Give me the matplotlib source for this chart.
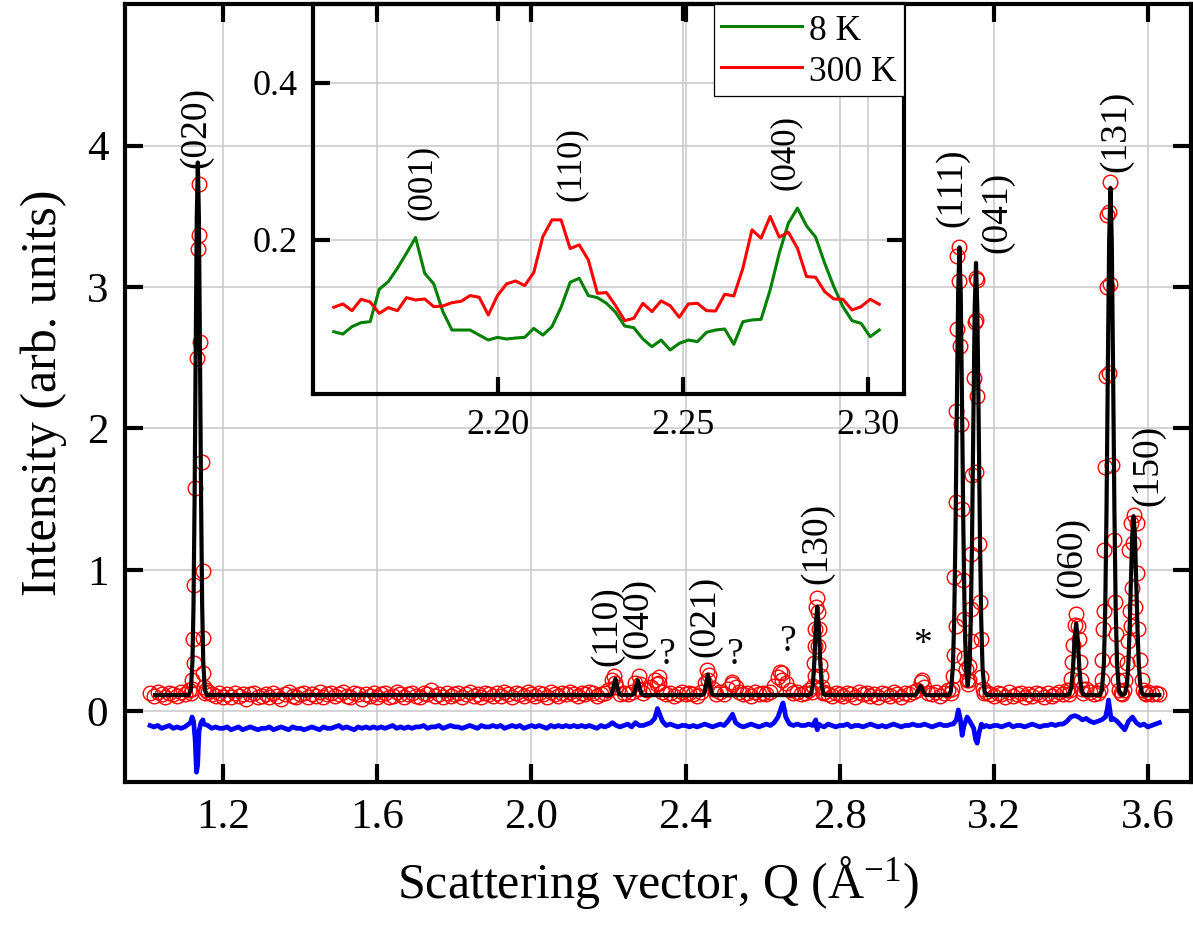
import numpy as np
import matplotlib
matplotlib.use('Agg')
import matplotlib.pyplot as plt

plt.rcParams['font.family'] = ['Liberation Serif', 'DejaVu Serif']
plt.rcParams['mathtext.fontset'] = 'custom'
plt.rcParams['mathtext.rm'] = 'Liberation Serif'
plt.rcParams['mathtext.it'] = 'Liberation Serif:italic'

N = np.nan

# ---------------- main pattern data ----------------
# observed intensity on a regular grid (Q = 1.01 ... 3.63, step 0.01); NaN where the
# peak points listed separately take over
OBS_GRID_START = 1.01
OBS_GRID_STEP = 0.01
OBS_BG_I = [
    0.13, 0.11, 0.14, 0.12, 0.10, 0.13, 0.12, 0.11, 0.14, 0.12,
    0.15, N, N, N, N, 0.14, 0.12, 0.11, 0.13, 0.10,
    0.12, 0.10, 0.13, 0.11, 0.12, 0.09, 0.12, 0.13, 0.10, 0.11,
    0.12, 0.10, 0.13, 0.11, 0.09, 0.12, 0.14, 0.11, 0.10, 0.12,
    0.13, 0.10, 0.12, 0.11, 0.14, 0.10, 0.12, 0.13, 0.11, 0.12,
    0.14, 0.11, 0.10, 0.13, 0.12, 0.09, 0.12, 0.11, 0.13, 0.10,
    0.12, 0.13, 0.10, 0.11, 0.14, 0.12, 0.10, 0.12, 0.13, 0.11,
    0.10, 0.13, 0.12, 0.15, 0.11, 0.12, 0.10, 0.13, 0.11, 0.12,
    0.13, 0.10, 0.12, 0.14, 0.11, 0.12, 0.10, 0.13, 0.12, 0.11,
    0.13, 0.11, 0.14, 0.12, 0.10, 0.13, 0.12, 0.11, 0.14, 0.12,
    0.11, 0.13, 0.12, 0.10, 0.14, 0.12, 0.11, 0.13, 0.12, 0.14,
    0.12, 0.11, 0.13, 0.12, 0.14, 0.13, 0.11, 0.12, 0.13, 0.15,
    0.22, 0.17, 0.12, 0.13, 0.12, 0.14, 0.20, 0.16, 0.13, 0.15,
    0.17, 0.22, 0.20, 0.14, 0.12, 0.13, 0.11, 0.12, 0.14, 0.12,
    0.13, 0.12, 0.11, 0.14, 0.20, 0.26, 0.16, 0.12, 0.14, 0.12,
    0.16, 0.19, 0.17, 0.14, 0.12, 0.13, 0.11, 0.14, 0.12, 0.13,
    0.12, 0.14, 0.18, 0.24, 0.27, 0.20, 0.15, 0.13, 0.14, 0.12,
    0.13, 0.15, N, N, N, 0.14, 0.12, 0.11, 0.13, 0.12,
    0.11, 0.13, 0.12, 0.10, 0.14, 0.12, 0.13, 0.11, 0.12, 0.10,
    0.13, 0.12, 0.11, 0.14, 0.12, 0.10, 0.13, 0.12, 0.14, 0.15,
    0.21, 0.17, 0.13, 0.12, 0.14, 0.11, 0.13, 0.15, N, N,
    N, N, N, N, N, N, N, 0.14, 0.12, 0.11,
    0.13, 0.12, 0.10, 0.14, 0.11, 0.12, 0.13, 0.10, 0.12, 0.11,
    0.13, 0.12, 0.10, 0.13, 0.11, 0.12, 0.14, 0.12, 0.15, N,
    N, N, N, 0.16, 0.14, 0.12, 0.13, N, N, N,
    N, N, N, N, N, N, N, N, N, 0.14,
    0.12, 0.13, 0.12,
]

# observed points on and around the Bragg peaks
OBS_PEAK_Q = [
    # (020)
    1.116, 1.118, 1.120, 1.122, 1.124, 1.124, 1.127, 1.131, 1.135, 1.137, 1.138,
    1.140, 1.144, 1.148, 1.147, 1.148, 1.151, 1.153, 1.155,
    # small peaks
    2.213, 2.216, 2.278, 2.281, 2.330, 2.327, 2.455, 2.459, 2.521, 2.646, 2.650, 3.014,
    # (130)
    2.728, 2.731, 2.735, 2.733, 2.736, 2.736, 2.739, 2.741, 2.744, 2.745, 2.746,
    2.749, 2.751, 2.754, 2.757,
    # (111)
    3.089, 3.092, 3.095, 3.098, 3.101, 3.097, 3.101, 3.103, 3.104, 3.105, 3.111,
    3.111, 3.113, 3.116, 3.118, 3.121, 3.122, 3.124, 3.127, 3.130, 3.133,
    # (041)
    3.136, 3.137, 3.140, 3.141, 3.141, 3.144, 3.148, 3.152, 3.153, 3.153, 3.157,
    3.155, 3.157, 3.161, 3.164, 3.166, 3.168, 3.171, 3.174,
    # (060)
    3.396, 3.398, 3.401, 3.404, 3.407, 3.411, 3.414, 3.418, 3.421, 3.424, 3.427,
    3.430, 3.433,
    # (131)
    3.477, 3.480, 3.482, 3.484, 3.487, 3.487, 3.489, 3.492, 3.495, 3.495, 3.500,
    3.500, 3.502, 3.502, 3.506, 3.511, 3.515, 3.517, 3.520, 3.523, 3.526, 3.530,
    3.534,
    # (150)
    3.538, 3.541, 3.545, 3.548, 3.550, 3.553, 3.556, 3.556, 3.559, 3.562, 3.563,
    3.567, 3.571, 3.571, 3.575, 3.580, 3.584, 3.588, 3.592, 3.596,
]
OBS_PEAK_I = [
    0.13, 0.16, 0.22, 0.51, 0.34, 0.89, 1.58, 2.50, 3.27, 3.73, 3.37,
    2.61, 1.76, 0.99, 0.52, 0.27, 0.17, 0.13, 0.15,
    0.25, 0.20, 0.25, 0.19, 0.24, 0.19, 0.29, 0.22, 0.21, 0.28, 0.22, 0.22,
    0.14, 0.18, 0.25, 0.34, 0.46, 0.58, 0.74, 0.80, 0.70, 0.46, 0.58,
    0.33, 0.25, 0.17, 0.13,
    0.13, 0.16, 0.25, 0.40, 0.60, 0.95, 1.48, 2.12, 2.70, 3.22, 3.28,
    3.04, 2.58, 2.03, 1.43, 0.93, 0.65, 0.38, 0.30, 0.22, 0.19,
    0.22, 0.32, 0.50, 0.72, 1.11, 1.67, 2.36, 2.75, 2.77, 3.06, 3.05,
    1.69, 2.23, 1.18, 0.77, 0.51, 0.24, 0.16, 0.13,
    0.12, 0.15, 0.23, 0.35, 0.47, 0.61, 0.69, 0.60, 0.51, 0.35, 0.22,
    0.16, 0.13,
    0.15, 0.22, 0.36, 0.58, 0.71, 1.14, 1.73, 2.37, 3.00, 3.51, 2.39,
    3.53, 3.02, 3.74, 1.74, 1.21, 0.77, 0.55, 0.36, 0.22, 0.15, 0.13,
    0.12,
    0.15, 0.22, 0.34, 0.50, 1.14, 0.71, 1.33, 0.60, 0.87, 1.19, 1.39,
    0.74, 1.33, 0.98, 0.58, 0.36, 0.22, 0.15, 0.13, 0.12,
]

# calculated (fit) curve vertices
CALC_Q = [
    1.023, 1.110, 1.1158, 1.120, 1.1228, 1.1256, 1.1284, 1.1312, 1.134, 1.1368, 1.1396,
    1.1424, 1.1452, 1.148, 1.1522, 1.158,
    2.203, 2.208, 2.213, 2.218, 2.223, 2.228, 2.233,
    2.261, 2.266, 2.271, 2.276, 2.281, 2.286, 2.291,
    2.443, 2.448, 2.453, 2.458, 2.463, 2.468, 2.473,
    2.720, 2.7251, 2.7303, 2.7342, 2.7381, 2.742, 2.7459, 2.7498, 2.7537, 2.7589, 2.764,
    2.992, 2.998, 3.004, 3.010, 3.016, 3.022, 3.028,
    3.083, 3.0889, 3.094, 3.0974, 3.1008, 3.1042, 3.1076, 3.111, 3.1144, 3.1178, 3.1212,
    3.1246, 3.128, 3.1325, 3.137, 3.1404, 3.1438, 3.1472, 3.1506, 3.154, 3.1574, 3.1608,
    3.1642, 3.1676, 3.171, 3.1761, 3.182,
    3.390, 3.3958, 3.4014, 3.4056, 3.4098, 3.414, 3.4182, 3.4224, 3.4266, 3.4322, 3.438,
    3.475, 3.4809, 3.486, 3.4894, 3.4928, 3.4962, 3.4996, 3.503, 3.5064, 3.5098, 3.5132,
    3.5166, 3.520, 3.5251, 3.533,
    3.5409, 3.546, 3.5494, 3.5528, 3.5562, 3.5596, 3.563, 3.5664, 3.5698, 3.5732, 3.5766,
    3.580, 3.5851, 3.591, 3.630,
]
CALC_I = [
    0.115, 0.115, 0.150, 0.350, 0.755, 1.501, 2.532, 3.485, 3.88, 3.485, 2.532,
    1.501, 0.755, 0.350, 0.150, 0.115,
    0.115, 0.122, 0.172, 0.23, 0.172, 0.122, 0.115,
    0.115, 0.122, 0.167, 0.22, 0.167, 0.122, 0.115,
    0.115, 0.124, 0.187, 0.26, 0.187, 0.124, 0.115,
    0.115, 0.121, 0.181, 0.345, 0.602, 0.74, 0.602, 0.345, 0.181, 0.121, 0.115,
    0.115, 0.119, 0.147, 0.18, 0.147, 0.119, 0.115,
    0.115, 0.144, 0.313, 0.653, 1.280, 2.147, 2.948, 3.28, 2.948, 2.147, 1.280,
    0.653, 0.318, 0.180, 0.311, 0.634, 1.239, 2.076, 2.849, 3.17, 2.849, 2.076,
    1.239, 0.634, 0.306, 0.143, 0.115,
    0.115, 0.120, 0.169, 0.301, 0.508, 0.62, 0.508, 0.301, 0.169, 0.120, 0.115,
    0.115, 0.148, 0.339, 0.724, 1.434, 2.417, 3.324, 3.70, 3.324, 2.417, 1.434,
    0.724, 0.339, 0.148, 0.115,
    0.127, 0.194, 0.330, 0.581, 0.927, 1.247, 1.38, 1.247, 0.927, 0.581, 0.330,
    0.194, 0.127, 0.115, 0.115,
]

# difference curve (offset), same regular grid + extra points at the features
DIFF_GRID_I = [
    -0.10, -0.11, -0.10, -0.12, -0.11, -0.10, -0.12, -0.11, -0.12, -0.11,
    -0.09, N, N, N, -0.09, -0.10, -0.12, -0.11, -0.12, -0.12,
    -0.11, -0.13, -0.12, -0.11, -0.13, -0.12, -0.11, -0.12, -0.13, -0.12,
    -0.12, -0.11, -0.13, -0.12, -0.11, -0.12, -0.13, -0.11, -0.12, -0.12,
    -0.13, -0.12, -0.11, -0.12, -0.13, -0.11, -0.12, -0.12, -0.11, -0.10,
    -0.12, -0.11, -0.12, -0.13, -0.11, -0.12, -0.11, -0.12, -0.11, -0.12,
    -0.11, -0.12, -0.11, -0.10, -0.12, -0.11, -0.12, -0.11, -0.12, -0.11,
    -0.11, -0.10, -0.12, -0.11, -0.11, -0.10, -0.12, -0.11, -0.10, -0.11,
    -0.11, -0.12, -0.11, -0.10, -0.11, -0.12, -0.10, -0.11, -0.11, -0.10,
    -0.11, -0.10, -0.12, -0.11, -0.10, -0.11, -0.10, -0.12, -0.11, -0.10,
    -0.11, -0.10, -0.11, -0.12, -0.10, -0.11, -0.10, -0.11, -0.10, -0.11,
    -0.10, -0.11, -0.10, -0.11, -0.10, -0.11, -0.12, -0.10, -0.11, -0.10,
    -0.08, -0.10, -0.11, -0.10, -0.09, -0.11, -0.08, -0.10, -0.10, -0.09,
    -0.08, -0.05, 0.00, -0.07, -0.10, -0.09, -0.10, -0.11, -0.10, -0.10,
    -0.11, -0.10, -0.11, -0.10, -0.09, -0.10, -0.11, -0.10, -0.09, -0.10,
    -0.07, -0.03, -0.08, -0.10, -0.11, -0.10, -0.09, -0.10, -0.11, -0.10,
    -0.09, -0.10, -0.08, -0.04, 0.04, -0.04, -0.09, -0.10, -0.09, -0.10,
    -0.10, -0.09, -0.10, -0.11, -0.10, -0.11, -0.09, -0.10, -0.11, -0.10,
    -0.10, -0.09, -0.11, -0.10, -0.10, -0.11, -0.10, -0.09, -0.10, -0.11,
    -0.10, -0.11, -0.10, -0.09, -0.10, -0.11, -0.10, -0.10, -0.09, -0.10,
    -0.10, -0.09, -0.10, -0.11, -0.10, -0.09, -0.10, -0.10, -0.09, N,
    N, N, N, N, N, N, N, -0.10, -0.11, -0.10,
    -0.10, -0.11, -0.10, -0.09, -0.11, -0.10, -0.10, -0.11, -0.10, -0.09,
    -0.10, -0.11, -0.10, -0.10, -0.09, -0.10, -0.09, -0.09, -0.07, -0.04,
    -0.03, -0.04, -0.06, -0.05, -0.07, -0.08, -0.07, -0.06, -0.04, N,
    -0.05, -0.07, -0.10, -0.13, -0.07, -0.04, -0.08, -0.10, -0.09, -0.11,
    -0.10, -0.09, -0.08,
]
DIFF_EXTRA_Q = [1.115, 1.119, 1.123, 1.127, 1.1305, 1.1335, 1.137, 1.142, 1.147,
                2.327, 2.522, 2.653, 2.657, 2.738, 2.742, 2.746,
                3.095, 3.103, 3.108, 3.113, 3.118, 3.123, 3.131, 3.140, 3.148,
                3.153, 3.157, 3.162, 3.168, 3.174,
                3.495, 3.498, 3.501, 3.505]
DIFF_EXTRA_I = [-0.08, -0.04, -0.07, -0.20, -0.43, -0.38, -0.14, -0.08, -0.06,
                0.02, -0.02, 0.06, 0.01, -0.06, -0.13, -0.09,
                -0.09, -0.06, 0.01, -0.05, -0.17, -0.10, -0.04, -0.08, -0.12,
                -0.20, -0.225, -0.15, -0.09, -0.11,
                0.02, 0.08, 0.02, -0.06]

MAIN_LABELS = [  # text, Q, I, rotation
    ('(020)', 1.130, 4.13, 90), ('(110)', 2.196, 0.605, 90), ('(040)', 2.277, 0.654, 90),
    ('?', 2.352, 0.40, 0), ('(021)', 2.451, 0.668, 90), ('?', 2.529, 0.40, 0),
    ('?', 2.666, 0.49, 0), ('(130)', 2.741, 1.19, 90), ('*', 3.016, 0.47, 0),
    ('(111)', 3.092, 3.70, 90), ('(041)', 3.209, 3.53, 90), ('(060)', 3.403, 1.09, 90),
    ('(131)', 3.518, 4.10, 90), ('(150)', 3.601, 1.74, 90),
]

# ---------------- inset data ----------------
INSET_Q_FIRST = 2.1556
INSET_Q_LAST = 2.3030
INSET_8K = [
    0.0832, 0.0802, 0.0896, 0.0947, 0.0959, 0.1371, 0.1469, 0.1639, 0.1830, 0.2029,
    0.1575, 0.1439, 0.1087, 0.0853, 0.0853, 0.0853, 0.0789, 0.0726, 0.0760, 0.0739,
    0.0751, 0.0760, 0.0874, 0.0789, 0.0896, 0.1142, 0.1460, 0.1511, 0.1291, 0.1265,
    0.1193, 0.1078, 0.0904, 0.0883, 0.0739, 0.0641, 0.0726, 0.0599, 0.0683, 0.0726,
    0.0705, 0.0824, 0.0853, 0.0866, 0.0671, 0.0959, 0.0981, 0.0989, 0.1363, 0.1830,
    0.2212, 0.2403, 0.2178, 0.2034, 0.1702, 0.1405, 0.1150, 0.0972, 0.0938, 0.0768,
    0.0853,
]
INSET_300K = [
    0.1142, 0.1185, 0.1099, 0.1244, 0.1210, 0.1065, 0.1138, 0.1099, 0.1265, 0.1235,
    0.1248, 0.1150, 0.1159, 0.1201, 0.1218, 0.1291, 0.1269, 0.1044, 0.1291, 0.1439,
    0.1477, 0.1418, 0.1584, 0.2042, 0.2254, 0.2254, 0.1889, 0.1936, 0.1745, 0.1320,
    0.1329, 0.1163, 0.0972, 0.1002, 0.1193, 0.1087, 0.1223, 0.1163, 0.1015, 0.1185,
    0.1193, 0.1099, 0.1095, 0.1308, 0.1286, 0.1639, 0.2127, 0.2021, 0.2297, 0.2034,
    0.2097, 0.1894, 0.1533, 0.1524, 0.1341, 0.1248, 0.1244, 0.1108, 0.1150, 0.1244,
    0.1180,
]
INSET_LABELS = [('(001)', 2.1795, 0.273), ('(110)', 2.2197, 0.297), ('(040)', 2.2776, 0.311)]

# ---------------- drawing ----------------
fig = plt.figure(figsize=(11.93, 9.40), dpi=100)
ax = fig.add_axes([0.1048, 0.168, 0.8935, 0.8277])

grid_q = np.round(OBS_GRID_START + OBS_GRID_STEP * np.arange(len(OBS_BG_I)), 3)
obs_bg = np.array(OBS_BG_I, dtype=float)
m = np.isfinite(obs_bg)
ax.plot(grid_q[m], obs_bg[m], 'o', mfc='none', mec='#ff0000', ms=10.5, mew=1.0, zorder=3)
ax.plot(OBS_PEAK_Q, OBS_PEAK_I, 'o', mfc='none', mec='#ff0000', ms=10.5, mew=1.0, zorder=3)

ax.plot(CALC_Q, CALC_I, '-', color='black', lw=3.0, zorder=4, solid_joinstyle='round')

diff_grid = np.array(DIFF_GRID_I, dtype=float)
md = np.isfinite(diff_grid)
dq = np.concatenate([grid_q[md], DIFF_EXTRA_Q])
di = np.concatenate([diff_grid[md], DIFF_EXTRA_I])
order = np.argsort(dq)
ax.plot(dq[order], di[order], '-', color='#0000ff', lw=3.4, zorder=4, solid_joinstyle='round')

ax.set_xlim(0.945, 3.712)
ax.set_ylim(-0.5, 5.0)
ax.set_xticks([1.2, 1.6, 2.0, 2.4, 2.8, 3.2, 3.6])
ax.set_xticklabels(['1.2', '1.6', '2.0', '2.4', '2.8', '3.2', '3.6'])
ax.set_yticks([0, 1, 2, 3, 4])
ax.grid(True, color='#c8c8c8', lw=1.1, zorder=0)
ax.tick_params(direction='in', length=13, width=3, labelsize=31, pad=12,
               top=True, right=True)
for s in ax.spines.values():
    s.set_linewidth(3)
ax.set_xlabel(r'Scattering vector, Q (Å$^{-1}$)', fontsize=36, labelpad=12)
ax.set_ylabel('Intensity (arb. units)', fontsize=36, labelpad=14)

for t, q, i, r in MAIN_LABELS:
    ax.text(q, i, t, rotation=r, ha='center', va='center', fontsize=27, zorder=5)

# inset
axi = fig.add_axes([0.2624, 0.5809, 0.4954, 0.4149])
axi.set_facecolor('none')
iq = np.linspace(INSET_Q_FIRST, INSET_Q_LAST, len(INSET_8K))
axi.plot(iq, INSET_8K, color='#008000', lw=2.2, label='8 K')
axi.plot(iq, INSET_300K, color='#ff0000', lw=2.2, label='300 K')
axi.set_xlim(2.15, 2.3097)
axi.set_ylim(0.004, 0.5)
axi.set_xticks([2.20, 2.25, 2.30])
axi.set_xticklabels(['2.20', '2.25', '2.30'])
axi.set_yticks([0.2, 0.4])
axi.set_yticklabels(['0.2', '0.4'])
axi.grid(True, color='#c8c8c8', lw=1.1, zorder=0)
axi.tick_params(direction='in', length=12, width=3, labelsize=26, pad=11,
                top=True, right=True)
for s in axi.spines.values():
    s.set_linewidth(3)
for t, q, i in INSET_LABELS:
    axi.text(q, i, t, rotation=90, ha='center', va='center', fontsize=25)
leg = axi.legend(loc='upper right', fontsize=25.5, frameon=True, fancybox=False,
                 borderaxespad=0.0, handlelength=2.3, handletextpad=0.2,
                 borderpad=0.2, labelspacing=0.12, handleheight=1.1)
leg.get_frame().set_edgecolor('black')
leg.get_frame().set_linewidth(0.9)
leg.get_frame().set_alpha(1)

fig.savefig('out.png', dpi=100)
